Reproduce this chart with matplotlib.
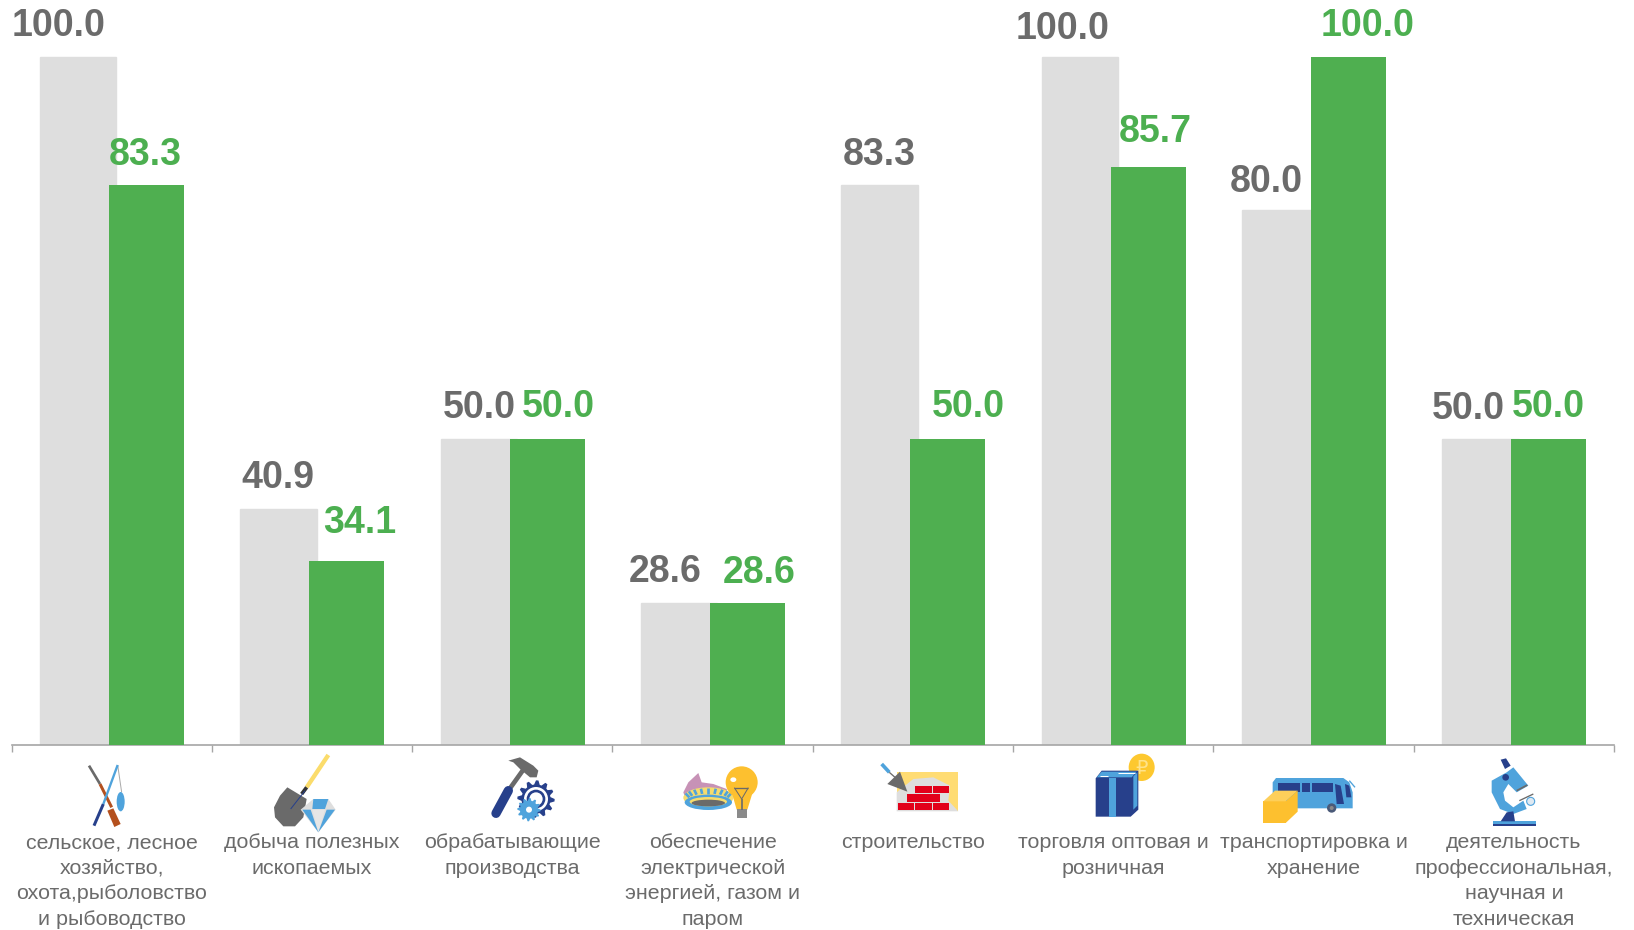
import numpy as np
import matplotlib
matplotlib.use("Agg")
import matplotlib.pyplot as plt
from matplotlib.patches import Polygon, Ellipse, Circle, Rectangle

plt.rcParams['font.family'] = ['Liberation Sans', 'DejaVu Sans']

categories = [
    "сельское, лесное\nхозяйство,\nохота,рыболовство\nи рыбоводство",
    "добыча полезных\nископаемых",
    "обрабатывающие\nпроизводства",
    "обеспечение\nэлектрической\nэнергией, газом и\nпаром",
    "строительство",
    "торговля оптовая и\nрозничная",
    "транспортировка и\nхранение",
    "деятельность\nпрофессиональная,\nнаучная и\nтехническая",
]
gray_values = [100.0, 40.9, 50.0, 28.6, 83.3, 100.0, 80.0, 50.0]
green_values = [83.3, 34.1, 50.0, 28.6, 50.0, 85.7, 100.0, 50.0]

# label offsets from the group centre / bar top, in pixels
gray_dx = [-53, -34, -33, -47, -34, -51, -47, -46]
green_dx = [34, 48, 46, 47, 55, 42, 54, 34]
gray_dy = [31, 31, 31, 31, 30, 28, 28, 30]
green_dy = [30, 38, 32, 30, 32, 35, 31, 32]

GRAY = "#dedede"
GREEN = "#4faf50"
TXT_GRAY = "#6b6b6b"
TXT_GREEN = "#4caf50"
NAVY = "#27408b"
BLUE = "#4fa3dc"
YELLOW = "#fdc02f"
DGRAY = "#6a6a6a"

W, H = 1634, 930
fig = plt.figure(figsize=(W / 100, H / 100), dpi=100)
ax = fig.add_axes([11.5 / W, (H - 745) / H, (1614 - 11.5) / W, 745 / H])

x = np.arange(len(categories)) + 0.5
ax.bar(x - 0.167, gray_values, 0.381, color=GRAY, edgecolor=GRAY, linewidth=1, bottom=0, zorder=2)
ax.bar(x + 0.174, green_values, 0.374, color=GREEN, bottom=0, zorder=3)
ax.set_xlim(0, 8)
ax.set_ylim(10, 10 + 745 / 7.64)

for i in range(len(categories)):
    ax.annotate(f"{gray_values[i]:.1f}", (x[i], gray_values[i]),
                xytext=(gray_dx[i] * 0.72, gray_dy[i] * 0.72), textcoords="offset points",
                ha="center", va="center", fontsize=27, fontweight="bold",
                color=TXT_GRAY, annotation_clip=False, zorder=5)
    ax.annotate(f"{green_values[i]:.1f}", (x[i], green_values[i]),
                xytext=(green_dx[i] * 0.72, green_dy[i] * 0.72), textcoords="offset points",
                ha="center", va="center", fontsize=27, fontweight="bold",
                color=TXT_GREEN, annotation_clip=False, zorder=5)

for s in ["top", "right", "left"]:
    ax.spines[s].set_visible(False)
ax.spines["bottom"].set_color("#a6a6a6")
ax.spines["bottom"].set_linewidth(1.2)
ax.set_yticks([])
ax.set_xticks(np.arange(9))
ax.set_xticklabels([])
ax.tick_params(axis="x", which="major", length=5, width=1, color="#a6a6a6")
ax.set_xticks(x, minor=True)
ax.set_xticklabels(categories, minor=True, fontsize=15.4, color=TXT_GRAY, linespacing=1.43)
ax.tick_params(axis="x", which="minor", length=0, pad=63.5)

# icons, drawn in pixel coordinates of the picture
ov = fig.add_axes([0, 0, 1, 1], facecolor="none")
ov.set_xlim(0, W)
ov.set_ylim(H, 0)
ov.axis("off")
Y0 = 749


def px(x0, pts):
    # zoom crop coords (3x) -> picture pixels
    return [(x0 + a / 3, Y0 + b / 3) for a, b in pts]


def poly(x0, pts, c, z=1):
    ov.add_patch(Polygon(px(x0, pts), closed=True, fc=c, ec="none", zorder=z))


def line(x0, a, b, c, lw, z=1, cap="butt"):
    p = px(x0, [a, b])
    ov.plot([p[0][0], p[1][0]], [p[0][1], p[1][1]], color=c, lw=lw * 0.24, solid_capstyle=cap, zorder=z)


def ell(x0, cx, cy, w, h, c, z=1, ec="none", lw=0):
    ov.add_patch(Ellipse((x0 + cx / 3, Y0 + cy / 3), w / 3, h / 3, fc=c, ec=ec, lw=lw, zorder=z))


def rect(x0, a, b, c2, d, col, z=1):
    ov.add_patch(Rectangle((x0 + a / 3, Y0 + b / 3), (c2 - a) / 3, (d - b) / 3, fc=col, ec="none", zorder=z))


def gear(x0, cx, cy, r, teeth, col, z=1):
    ang = np.linspace(0, 2 * np.pi, teeth * 4, endpoint=False)
    rad = np.tile([r, r, r * 0.78, r * 0.78], teeth)
    poly(x0, list(zip(cx + rad * np.cos(ang), cy + rad * np.sin(ang))), col, z)


# fishing and hunting
o = 70
line(o, (57, 50), (90, 105), DGRAY, 8)
line(o, (90, 105), (125, 175), "#b4501e", 9)
poly(o, [(112, 185), (130, 178), (152, 225), (133, 234)], "#b4501e")
line(o, (143, 48), (155, 130), "#aaaaaa", 3)
line(o, (72, 230), (100, 165), NAVY, 9)
line(o, (100, 165), (143, 48), BLUE, 7, 2)
ell(o, 152, 158, 24, 58, BLUE)

# shovel and diamond
line(o, (775, 18), (710, 115), "#fbdc6b", 13)
line(o, (710, 115), (695, 135), "#333333", 11)
poly(o, [(652, 115), (710, 150), (700, 205), (675, 232), (640, 232), (615, 205), (612, 175), (630, 140)], DGRAY, 2)
line(o, (705, 125), (662, 180), NAVY, 3, 3)
poly(o, [(730, 150), (775, 150), (797, 182), (745, 250), (692, 182)], GRAY, 3)
poly(o, [(730, 150), (775, 150), (765, 180), (727, 180)], BLUE, 4)
poly(o, [(727, 182), (765, 182), (745, 250)], "#e6e6e6", 4)
poly(o, [(697, 182), (722, 182), (745, 250)], BLUE, 4)
poly(o, [(770, 182), (795, 182), (745, 250)], BLUE, 4)

# hammer and gears
o = 470
line(o, (165, 55), (115, 125), DGRAY, 14)
line(o, (115, 125), (78, 193), NAVY, 28, 2, "round")
poly(o, [(115, 35), (150, 25), (190, 50), (205, 65), (200, 85), (180, 85), (150, 60), (130, 40)], DGRAY, 2)
gear(o, 198, 150, 56, 12, NAVY, 1)
ell(o, 198, 150, 72, 72, "white", 2)
ell(o, 198, 150, 56, 56, NAVY, 3)
ell(o, 198, 150, 40, 40, "white", 3)
gear(o, 177, 182, 35, 12, BLUE, 4)
ell(o, 177, 182, 18, 18, "white", 5)

# burner and lamp
poly(o, [(640, 130), (655, 100), (685, 72), (695, 100), (730, 105), (770, 120), (780, 160), (700, 172), (650, 160)], "#c792b6")
ell(o, 715, 146, 150, 62, "#f5dc6e", 2)
ell(o, 715, 160, 142, 46, BLUE, 3)
ell(o, 715, 158, 112, 28, "#f5dc6e", 4)
ell(o, 715, 162, 100, 20, DGRAY, 5)
for a in np.linspace(0.1, 0.9, 9) * np.pi:
    # burner flame tips
    line(o, (715 + 60 * np.cos(a), 150 - 16 * np.sin(a)), (715 + 72 * np.cos(a), 140 - 22 * np.sin(a)), BLUE, 8, 3)
ov.add_patch(Circle((o + 815 / 3, Y0 + 100 / 3), 48 / 3, fc=YELLOW, ec="none", zorder=6))
poly(o, [(785, 130), (848, 130), (832, 182), (800, 182)], YELLOW, 6)
rect(o, 800, 180, 832, 208, "#8a8a8a", 7)
ell(o, 790, 92, 18, 14, "white", 7)
line(o, (793, 116), (835, 116), DGRAY, 4, 7)
line(o, (793, 116), (815, 150), DGRAY, 3, 7)
line(o, (835, 116), (815, 150), DGRAY, 3, 7)
line(o, (815, 150), (815, 182), DGRAY, 5, 7)

# bricks and trowel
o = 870
rect(o, 80, 70, 265, 187, "#ffdc73")
poly(o, [(80, 187), (80, 130), (130, 90), (190, 85), (240, 110), (235, 155), (265, 187)], GRAY, 2)
for a, b, c2, d in [(135, 110, 185, 133), (188, 110, 238, 133), (110, 136, 158, 158), (160, 136, 210, 158),
                    (83, 161, 132, 184), (135, 161, 185, 184), (188, 161, 238, 184)]:
    rect(o, a, b, c2, d, "#e2001a", 3)
poly(o, [(90, 68), (112, 128), (52, 105)], DGRAY, 4)
line(o, (35, 45), (58, 70), BLUE, 11, 4)
line(o, (58, 70), (75, 85), DGRAY, 4, 4)

# box and coin
ell(o, 815, 55, 78, 82, "#fdc82f")
ov.text(o + 815 / 3, Y0 + 57 / 3, "₽", fontsize=14, color="#ffe38a", ha="center", va="center",
        family=["DejaVu Sans"], zorder=2)
poly(o, [(677, 88), (695, 65), (805, 65), (805, 182), (782, 203), (677, 203)], NAVY, 3)
rect(o, 717, 88, 738, 203, BLUE, 4)
poly(o, [(790, 82), (802, 70), (802, 170), (790, 182)], BLUE, 4)
poly(o, [(680, 85), (695, 68), (800, 68), (785, 85)], BLUE, 4)
line(o, (690, 80), (715, 80), "white", 3, 5)
line(o, (745, 72), (795, 72), "white", 3, 5)

# bus and parcel
o = 1250
poly(o, [(68, 100), (78, 87), (280, 87), (298, 100), (308, 130), (308, 178), (68, 178)], BLUE)
for a, b, c2, d in [(85, 103, 150, 130), (155, 103, 180, 130), (185, 103, 250, 130)]:
    rect(o, a, b, c2, d, NAVY, 2)
poly(o, [(255, 105), (272, 110), (282, 165), (260, 165)], NAVY, 2)
poly(o, [(285, 105), (298, 110), (304, 145), (289, 145)], NAVY, 2)
line(o, (298, 95), (315, 115), BLUE, 4, 2)
ell(o, 245, 177, 28, 28, "#4a5a78", 3)
ell(o, 245, 177, 12, 12, "#8a8a8a", 4)
poly(o, [(40, 157), (107, 157), (107, 222), (40, 222)], YELLOW, 5)
poly(o, [(40, 157), (75, 125), (143, 125), (107, 157)], "#fdcf5a", 5)
poly(o, [(107, 157), (143, 125), (143, 188), (107, 222)], YELLOW, 5)

# microscope
rect(o, 728, 216, 857, 226, BLUE, 2)
rect(o, 728, 226, 857, 232, NAVY, 2)
poly(o, [(752, 217), (770, 190), (790, 187), (795, 217)], NAVY, 3)
poly(o, [(725, 95), (770, 70), (790, 55), (835, 110), (800, 130), (775, 105), (760, 130), (765, 155),
         (790, 175), (820, 155), (830, 180), (790, 195), (750, 180), (725, 130)], BLUE, 2)
poly(o, [(752, 32), (768, 28), (782, 50), (765, 60)], NAVY, 3)
ell(o, 767, 85, 20, 20, NAVY, 3)
line(o, (800, 125), (832, 108), DGRAY, 5, 4)
line(o, (808, 155), (850, 135), DGRAY, 4, 4)
ell(o, 842, 157, 24, 24, "#dfe9f2", 4, ec=BLUE, lw=0.8)

fig.savefig("out.png", dpi=100)
